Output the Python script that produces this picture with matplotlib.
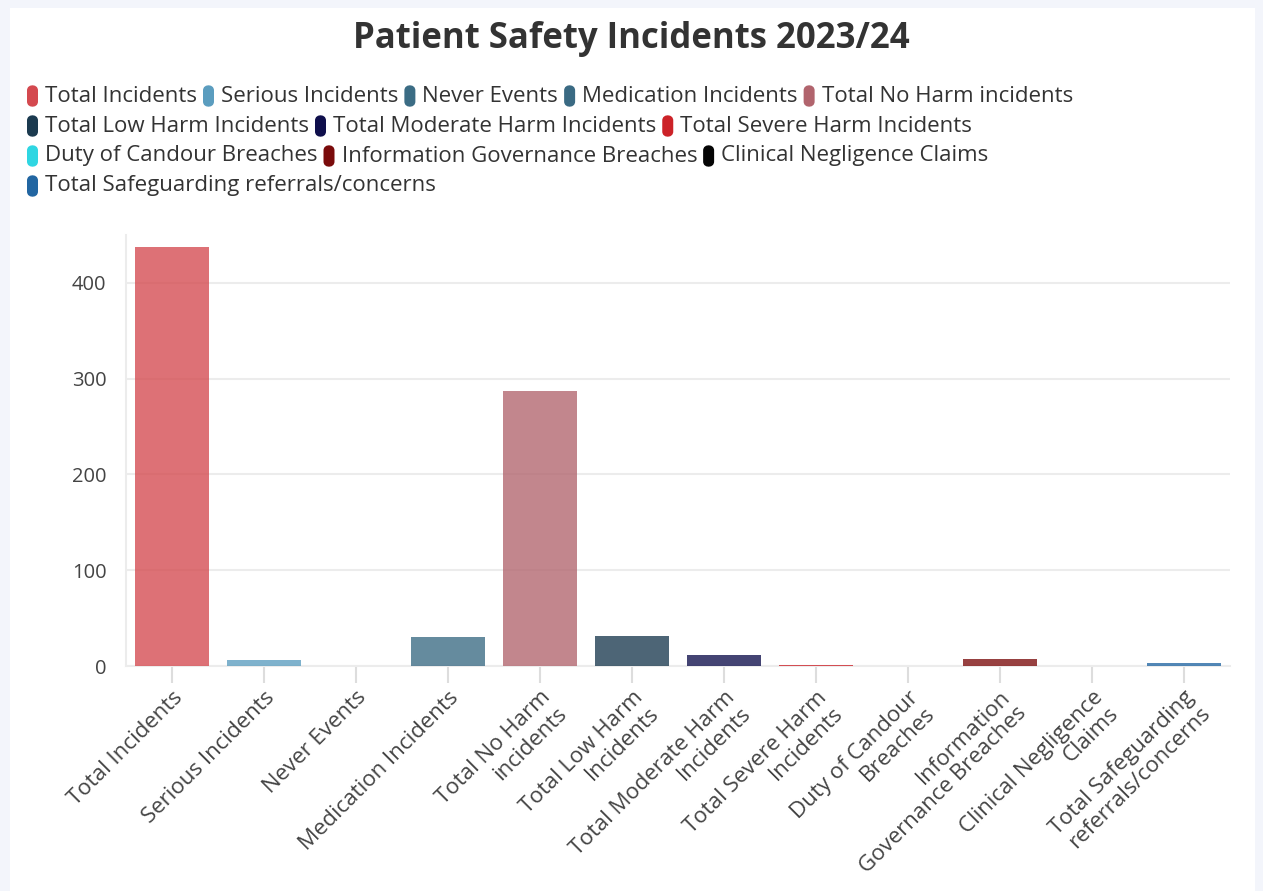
import matplotlib
matplotlib.use("Agg")
import matplotlib.pyplot as plt
from matplotlib.patches import FancyBboxPatch, Rectangle

# Incident counts for the year
categories = [
    "Total Incidents", "Serious Incidents", "Never Events", "Medication Incidents",
    "Total No Harm incidents", "Total Low Harm Incidents", "Total Moderate Harm Incidents",
    "Total Severe Harm Incidents", "Duty of Candour Breaches", "Information Governance Breaches",
    "Clinical Negligence Claims", "Total Safeguarding referrals/concerns",
]
tick_labels = [
    "Total Incidents", "Serious Incidents", "Never Events", "Medication Incidents",
    "Total No Harm\nincidents", "Total Low Harm\nIncidents", "Total Moderate Harm\nIncidents",
    "Total Severe Harm\nIncidents", "Duty of Candour\nBreaches", "Information\nGovernance Breaches",
    "Clinical Negligence\nClaims", "Total Safeguarding\nreferrals/concerns",
]
values = [437, 6, 0, 30, 287, 31, 11, 1, 0, 7, 0, 3]
colors = [
    "#d4494f", "#5b9dbf", "#3b6c84", "#3a6a83", "#b1646d", "#1b3a4f",
    "#0f0f4c", "#cc2228", "#2fd6e2", "#7a0b0b", "#050505", "#2266a2",
]

TEXT = "#333333"
GRID = "#ececec"

fig = plt.figure(figsize=(12.63, 8.91), dpi=100)
fig.patch.set_facecolor("#f3f5fb")
fig.patches.append(Rectangle((10 / 1263, 0), 1245 / 1263, 1 - 8 / 891,
                             transform=fig.transFigure, facecolor="white",
                             edgecolor="none", zorder=-5))

sans = ["Open Sans", "DejaVu Sans"]

fig.text(0.5, 1 - 39 / 891, "Patient Safety Incidents 2023/24", ha="center", va="center",
         fontsize=25, fontweight="bold", color=TEXT, family=sans)

ax = fig.add_axes([126 / 1263, 1 - 666 / 891, (1230 - 126) / 1263, (666 - 235) / 891])
ax.set_zorder(1)
ax.set_facecolor("white")
x = list(range(len(categories)))
ax.bar(x, values, width=0.8, color=colors, alpha=0.78, linewidth=0, zorder=3)
ax.set_xlim(-0.5, len(categories) - 0.5)
ax.set_ylim(0, 450)
ax.set_yticks([0, 100, 200, 300, 400])
ax.grid(axis="y", color=GRID, linewidth=1.5, zorder=0)
for side in ["top", "right"]:
    ax.spines[side].set_visible(False)
ax.spines["left"].set_color(GRID)
ax.spines["left"].set_linewidth(1.5)
ax.spines["bottom"].set_color(GRID)
ax.spines["bottom"].set_linewidth(1.5)
ax.tick_params(axis="y", length=0, pad=14, labelsize=14.5, labelcolor="#444444")
ax.tick_params(axis="x", length=12, color="#dddddd", width=1.5, pad=3)
ax.set_xticks(x)
ax.set_xticklabels(tick_labels, rotation=45, ha="right", rotation_mode="anchor",
                   fontsize=16, color="#444444", linespacing=1.1)
for lbl in ax.get_xticklabels() + ax.get_yticklabels():
    lbl.set_family(sans)

# Legend laid out as wrapping rows of swatch + label
fig.canvas.draw()
renderer = fig.canvas.get_renderer()
W, H = 1263, 891
x0, y0 = 28, 96
row_gap = 30
max_x = 1160
cx, cy = x0, y0
for name, c in zip(categories, colors):
    t = fig.text(0, 0, name, fontsize=16, color=TEXT, family=sans, va="center")
    w = t.get_window_extent(renderer).width
    item_w = 18 + w
    if cx + item_w > max_x and cx > x0:
        cx = x0
        cy += row_gap
    fig.patches.append(FancyBboxPatch(((cx - 1) / W, 1 - (cy + 11) / H), 11 / W, 22 / H,
                                      boxstyle="round,pad=0,rounding_size=0.006",
                                      transform=fig.transFigure, facecolor=c,
                                      edgecolor="none", zorder=2))
    t.set_position(((cx + 17) / W, 1 - cy / H))
    cx += item_w + 6

fig.savefig("out.png", dpi=100, facecolor=fig.get_facecolor())
